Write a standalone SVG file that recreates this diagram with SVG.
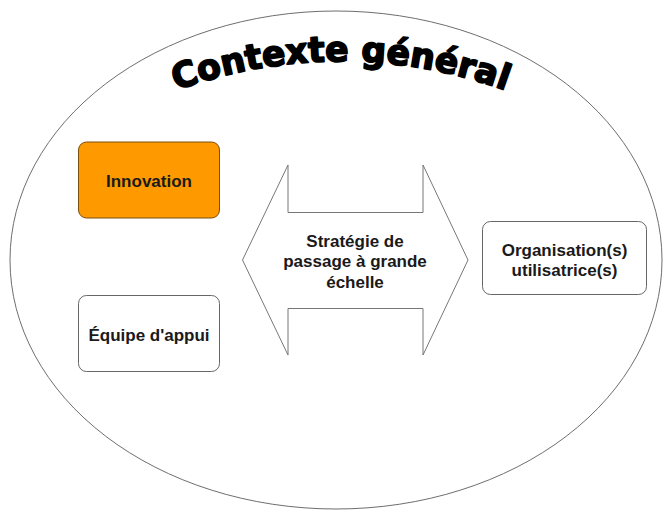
<svg xmlns="http://www.w3.org/2000/svg" xmlns:xlink="http://www.w3.org/1999/xlink" width="663" height="510" viewBox="0 0 663 510">
<style>
.lbl{font-family:"Liberation Sans",Arial,sans-serif;font-weight:bold;font-size:17px;fill:#1a1a1a;text-anchor:middle}
.box{fill:#ffffff;stroke:#666666;stroke-width:1}
.title{font-family:"DejaVu Sans","Liberation Sans",sans-serif;font-weight:bold;font-size:35px;fill:#000;stroke:#000;stroke-width:1.8;stroke-linejoin:round}
</style>
<defs>
<path id="arc" d="M141,105 A480,480 0 0 1 541,105"/>
</defs>
<rect width="663" height="510" fill="#ffffff"/>
<g id="contexte">
<ellipse cx="336" cy="260" rx="326" ry="249" fill="#ffffff" stroke="#6e6e6e" stroke-width="1"/>
<text class="title"><textPath xlink:href="#arc" href="#arc" startOffset="50%" text-anchor="middle" textLength="336" lengthAdjust="spacingAndGlyphs">Contexte général</textPath></text>
</g>
<g id="connectors"></g>
<g id="innovation">
<rect x="78.5" y="142" width="141" height="76" rx="8" fill="#ff9900" stroke="#7a4f10" stroke-width="1"/>
<text class="lbl" x="149" y="187">Innovation</text>
</g>
<g id="equipe">
<rect class="box" x="78.5" y="295.5" width="141" height="76" rx="8"/>
<text class="lbl" x="149" y="341">Équipe d'appui</text>
</g>
<g id="strategie">
<path d="M242.5,260 L288,165 L288,212.5 L423,212.5 L423,165 L468,260 L423,355 L423,308.5 L288,308.5 L288,355 Z" fill="#ffffff" stroke="#777777" stroke-width="1" stroke-linejoin="miter"/>
<text class="lbl" x="355" y="247">Stratégie de</text>
<text class="lbl" x="355" y="267">passage à grande</text>
<text class="lbl" x="355" y="288">échelle</text>
</g>
<g id="organisation">
<rect class="box" x="482.5" y="221.5" width="164" height="73" rx="8"/>
<text class="lbl" x="564.5" y="256">Organisation(s)</text>
<text class="lbl" x="564.5" y="276">utilisatrice(s)</text>
</g>
</svg>
